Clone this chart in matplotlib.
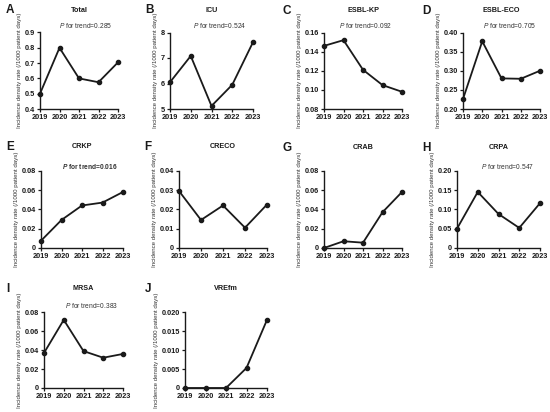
import matplotlib
matplotlib.use("Agg")
import matplotlib.pyplot as plt

plt.rcParams['font.family'] = ['Liberation Sans', 'DejaVu Sans']
plt.rcParams['mathtext.fontset'] = 'custom'
plt.rcParams['mathtext.it'] = 'Liberation Sans:italic'
plt.rcParams['mathtext.rm'] = 'Liberation Sans'
plt.rcParams['mathtext.bf'] = 'Liberation Sans:bold'
plt.rcParams['mathtext.bfit'] = 'Liberation Sans:italic:bold'

years = [2019, 2020, 2021, 2022, 2023]
letters = ["A", "B", "C", "D", "E", "F", "G", "H", "I", "J"]
titles = ["Total", "ICU", "ESBL-KP", "ESBL-ECO", "CRKP", "CRECO", "CRAB", "CRPA", "MRSA", "VREfm"]

total = [0.50, 0.80, 0.60, 0.575, 0.705]
icu = [6.05, 7.08, 5.12, 5.95, 7.62]
esbl_kp = [0.146, 0.152, 0.121, 0.105, 0.098]
esbl_eco = [0.226, 0.377, 0.280, 0.279, 0.300]
crkp = [0.0075, 0.029, 0.044, 0.047, 0.058]
creco = [0.0295, 0.0145, 0.022, 0.0105, 0.0225]
crab = [0.0, 0.007, 0.0055, 0.037, 0.058]
crpa = [0.050, 0.145, 0.088, 0.052, 0.116]
mrsa = [0.037, 0.072, 0.039, 0.032, 0.036]
vrefm = [0.0, 0.0, 0.0, 0.0053, 0.018]
series = [total, icu, esbl_kp, esbl_eco, crkp, creco, crab, crpa, mrsa, vrefm]

yticks = [
    [0.4, 0.5, 0.6, 0.7, 0.8, 0.9],
    [5, 6, 7, 8],
    [0.08, 0.10, 0.12, 0.14, 0.16],
    [0.20, 0.25, 0.30, 0.35, 0.40],
    [0, 0.02, 0.04, 0.06, 0.08],
    [0, 0.01, 0.02, 0.03, 0.04],
    [0, 0.02, 0.04, 0.06, 0.08],
    [0, 0.05, 0.10, 0.15, 0.20],
    [0, 0.02, 0.04, 0.06, 0.08],
    [0, 0.005, 0.010, 0.015, 0.020],
]
ytick_labels = [
    ["0.4", "0.5", "0.6", "0.7", "0.8", "0.9"],
    ["5", "6", "7", "8"],
    ["0.08", "0.10", "0.12", "0.14", "0.16"],
    ["0.20", "0.25", "0.30", "0.35", "0.40"],
    ["0", "0.02", "0.04", "0.06", "0.08"],
    ["0", "0.01", "0.02", "0.03", "0.04"],
    ["0", "0.02", "0.04", "0.06", "0.08"],
    ["0", "0.05", "0.10", "0.15", "0.20"],
    ["0", "0.02", "0.04", "0.06", "0.08"],
    ["0", "0.005", "0.010", "0.015", "0.020"],
]
p_texts = ["0.285", "0.524", "0.092", "0.705", "0.016", None, None, "0.547", "0.383", None]
p_bold = [False, False, False, False, True, False, False, False, False, False]

ylabel = "Incidence density rate (/1000 patient days)"

# pixel boxes: (x_left, x_right, y_top, y_bottom)
W, H = 550, 412
boxes = [
    (40, 118, 32.5, 109), (170, 253, 32.5, 109), (324, 402, 32.5, 109), (463, 540, 32.5, 109),
    (41, 123, 170.7, 248), (179, 267, 170.7, 248), (324, 402, 170.7, 248), (457, 540, 170.7, 248),
    (44, 123, 312.3, 388), (185, 267, 312.3, 388),
]
p_xpix = [86, 220, 366, 510, 90, None, None, 508, 92, None]
p_ypix = [25, 25, 26, 26, 166.7, None, None, 166.7, 305, None]
title_ypix = [10.7, 10.7, 11, 11, 146.7, 146.7, 147.7, 147.7, 288.3, 288.3]
letter_xpix = [10, 149, 287, 426, 10, 148, 287, 426, 8, 148]
letter_ypix = [10, 10, 11, 11, 147, 147, 148, 148, 289, 289]

fig = plt.figure(figsize=(5.5, 4.12), dpi=100)
col = "#1a1a1a"
for i in range(10):
    xl, xr, yt, yb = boxes[i]
    ax = fig.add_axes([xl / W, 1 - yb / H, (xr - xl) / W, (yb - yt) / H])
    ax.plot(years, series[i], color=col, lw=1.3, marker="o", ms=3.0, clip_on=False, zorder=3)
    ax.set_xlim(years[0], years[-1])
    ax.set_ylim(yticks[i][0], yticks[i][-1])
    ax.set_xticks(years)
    ax.set_xticklabels([str(y) for y in years], fontsize=5.3, fontweight="bold")
    ax.set_yticks(yticks[i])
    ax.set_yticklabels(ytick_labels[i], fontsize=5.3, fontweight="bold")
    for s in ["top", "right"]:
        ax.spines[s].set_visible(False)
    for s in ["left", "bottom"]:
        ax.spines[s].set_linewidth(1.0)
        ax.spines[s].set_color(col)
    ax.tick_params(length=2.5, width=0.9, pad=1.2, colors=col)
    ax.set_ylabel(ylabel, fontsize=4.4, labelpad=2, color="#333333")
    fig.text((xl + xr) / 2 / W, 1 - title_ypix[i] / H, titles[i], fontsize=5.2,
             fontweight="bold", ha="center", va="center", color=col)
    fig.text(letter_xpix[i] / W, 1 - letter_ypix[i] / H, letters[i], fontsize=8.5,
             fontweight="bold", ha="center", va="center", color=col)
    if p_texts[i] is not None:
        if p_bold[i]:
            s = r"$\mathbfit{P}$" + " for trend=" + p_texts[i]
            fw = "bold"
        else:
            s = r"$\mathit{P}$" + " for trend=" + p_texts[i]
            fw = "normal"
        fig.text(p_xpix[i] / W, 1 - p_ypix[i] / H, s,
                 fontsize=4.8, fontweight=fw, ha="center", va="center", color="#333333")

fig.savefig("out.png", dpi=100)
